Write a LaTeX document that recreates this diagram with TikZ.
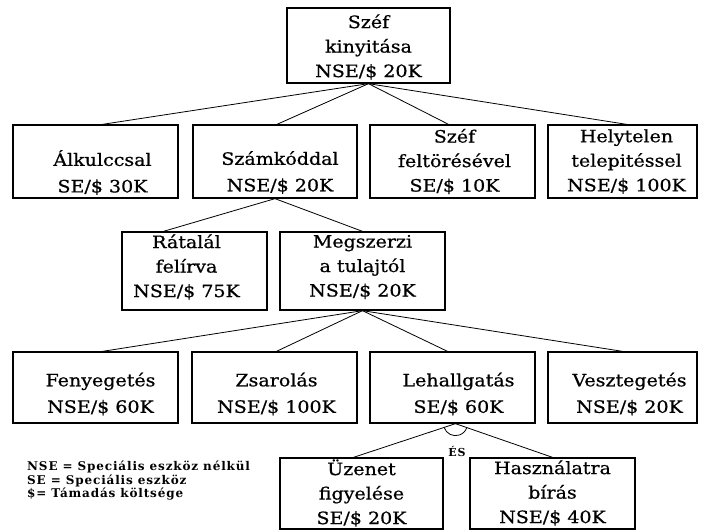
\documentclass[tikz,border=0pt]{standalone}
\usepackage{fontspec}
\setmainfont{DejaVu Serif}
\newfontfamily\boxface[FakeStretch=1.12,FakeBold=0.7]{DejaVu Serif}
\newfontfamily\noteface[LetterSpace=7]{DejaVu Serif}
\newcommand\boxfont{\boxface\fontsize{17}{24.5}\selectfont}
\newcommand\notefont{\noteface\bfseries\fontsize{12}{13.5}\selectfont}
\newcommand\andfont{\noteface\bfseries\fontsize{11}{12}\selectfont}

\begin{document}
\begin{tikzpicture}[x=1pt,y=-1pt,
  box/.style={draw, line width=1.3pt, inner sep=0pt},
  lbl/.style={font=\boxfont, align=center, inner sep=0pt},
  link/.style={line width=0.8pt},
  note/.style={font=\notefont, align=left, inner sep=0pt, anchor=north west}]
\useasboundingbox (0,0) rectangle (701,530);

% attack tree boxes
\node[box, minimum width=163pt, minimum height=75pt] (top)  at (368.5,45.5) {};

\node[box, minimum width=165pt, minimum height=73pt] (alk)  at (95.5,161.5) {};
\node[box, minimum width=164pt, minimum height=73pt] (szam) at (275,161.5) {};
\node[box, minimum width=165pt, minimum height=73pt] (fel)  at (452.5,161.5) {};
\node[box, minimum width=149pt, minimum height=73pt] (hely) at (622.5,161.5) {};

\node[box, minimum width=145pt, minimum height=78pt] (rat)  at (194.5,271) {};
\node[box, minimum width=165pt, minimum height=78pt] (meg)  at (362.5,271) {};

\node[box, minimum width=165pt, minimum height=71pt] (fen)  at (95.5,387.5) {};
\node[box, minimum width=165pt, minimum height=71pt] (zsa)  at (274.5,387.5) {};
\node[box, minimum width=165pt, minimum height=71pt] (leh)  at (452.5,387.5) {};
\node[box, minimum width=149pt, minimum height=71pt] (vesz) at (622.5,387.5) {};

\node[box, minimum width=163pt, minimum height=71pt] (uz)   at (361.5,493.5) {};
\node[box, minimum width=165pt, minimum height=71pt] (hasz) at (552.5,493.5) {};

% box texts
\node[lbl] (top-t)  at ([yshift=-1.5pt]top.center) {Széf\\kinyitása\\NSE/\$ 20K};
\node[lbl] (alk-t)  at ([xshift=7pt,yshift=-11pt]alk.center) {Álkulccsal\\[2pt]SE/\$ 30K};
\node[lbl] (szam-t) at ([xshift=5pt,yshift=-11pt]szam.center) {Számkóddal\\[2pt]NSE/\$ 20K};
\node[lbl] (fel-t)  at ([xshift=2pt]fel.center) {Széf\\feltörésével\\SE/\$ 10K};
\node[lbl] (hely-t) at ([xshift=4pt]hely.center) {Helytelen\\telepitéssel\\NSE/\$ 100K};
\node[lbl] (rat-t)  at ([xshift=-8pt,yshift=4pt]rat.center) {Rátalál\\felírva\\NSE/\$ 75K};
\node[lbl] (meg-t)  at ([yshift=4pt]meg.center) {Megszerzi\\a tulajtól\\NSE/\$ 20K};
\node[lbl] (fen-t)  at ([xshift=5pt,yshift=-6.5pt]fen.center) {Fenyegetés\\[2pt]NSE/\$ 60K};
\node[lbl] (zsa-t)  at ([xshift=2pt,yshift=-6.5pt]zsa.center) {Zsarolás\\[2pt]NSE/\$ 100K};
\node[lbl] (leh-t)  at ([xshift=6pt,yshift=-6.5pt]leh.center) {Lehallgatás\\[2pt]SE/\$ 60K};
\node[lbl] (vesz-t) at ([xshift=7pt,yshift=-6.5pt]vesz.center) {Vesztegetés\\[2pt]NSE/\$ 20K};
\node[lbl] (uz-t)   at ([yshift=0.5pt]uz.center) {Üzenet\\figyelése\\SE/\$ 20K};
\node[lbl] (hasz-t) at ([yshift=0.5pt]hasz.center) {Használatra\\bírás\\NSE/\$ 40K};

% connectors
\draw[link] (top.south) -- ([xshift=7pt]alk.north);
\draw[link] (top.south) -- ([xshift=2pt]szam.north);
\draw[link] (top.south) -- ([xshift=-4pt]fel.north);
\draw[link] (top.south) -- ([xshift=4pt]hely.north);

\draw[link] (szam.south) -- ([xshift=-31pt]rat.north);
\draw[link] (szam.south) -- (meg.north);

\draw[link] (meg.south) -- ([xshift=7pt]fen.north);
\draw[link] (meg.south) -- ([xshift=2pt]zsa.north);
\draw[link] (meg.south) -- ([xshift=-5pt]leh.north);
\draw[link] (meg.south) -- (vesz.north);

% AND junction below the eavesdropping box
\coordinate (and) at ([xshift=3pt]leh.south);
\draw[link] (and) -- ([xshift=-8pt]uz.north);
\draw[link] (and) -- (hasz.north);
\draw[link] ([shift={(161:12)}]and) arc[start angle=161, end angle=20, radius=12];
\node[font=\andfont, inner sep=0pt] (es) at (457,451) {ÉS};

% legend
\node[note] (legend) at (27,461) {NSE = Speciális eszköz nélkül\\SE = Speciális eszköz\\\$= Támadás költsége};
\end{tikzpicture}
\end{document}
